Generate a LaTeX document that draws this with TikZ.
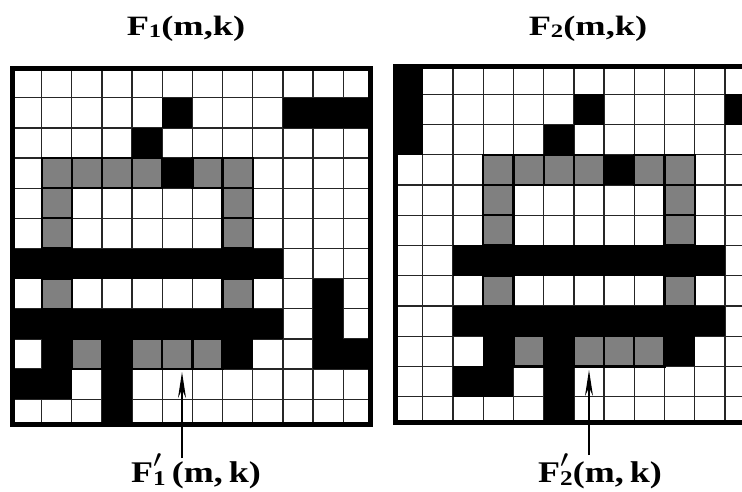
\documentclass[tikz,border=0pt]{standalone}
\usepackage{fontspec}
\setmainfont{Liberation Serif}
\usetikzlibrary{arrows.meta}
\begin{document}
\begin{tikzpicture}[x=1pt,y=-1pt,
  gridline/.style={line width=1.3pt, black!85},
  border/.style={line width=5pt, black},
  blk/.style={fill=black},
  gry/.style={fill=black!50, draw=black, line width=2.2pt},
  ttl/.style={font=\bfseries\fontsize{28}{32}\selectfont, inner sep=0pt, anchor=base},
  lab/.style={font=\bfseries\fontsize{30}{33}\selectfont, inner sep=0pt, anchor=base},
  arr/.style={line width=1.4pt, -{Stealth[length=26pt,width=8pt]}}]
\clip (0,0) rectangle (742,491);
\fill[white] (0,0) rectangle (742,491);
% ---------------- left grid ----------------
\begin{scope}[shift={(11.5,67.6)}]
  \def\s{30.15}
  \begin{scope}
    \clip (0.5,0.4) rectangle (359,356.9);
    \foreach \i in {1,...,11} {
      \draw[gridline] (\i*\s,0) -- (\i*\s,357);
      \draw[gridline] (0,\i*\s) -- (360,\i*\s);
    }
    \foreach \c/\r in {6/2,10/2,11/2,12/2, 5/3, 6/4,
      1/7,2/7,3/7,4/7,5/7,6/7,7/7,8/7,9/7, 11/8,
      1/9,2/9,3/9,4/9,5/9,6/9,7/9,8/9,9/9,11/9,
      2/10,4/10,8/10,11/10,12/10, 1/11,2/11,4/11, 4/12}
      \fill[blk] (\c*\s-\s,\r*\s-\s) rectangle +(\s,\s);
    \foreach \c/\r in {2/4,3/4,4/4,5/4,7/4,8/4, 2/5,8/5, 2/6,8/6, 2/8,8/8,
      3/10,5/10,6/10,7/10}
      \draw[gry] (\c*\s-\s,\r*\s-\s) rectangle +(\s,\s);
  \end{scope}
  \draw[border] (0.5,0.4) rectangle (359,356.9);
\end{scope}
% ---------------- right grid ----------------
\begin{scope}[shift={(392.5,64.1)}]
  \def\s{30.23}
  \begin{scope}
    \clip (2.5,2.4) rectangle (370,358.4);
    \foreach \i in {1,...,11} {
      \draw[gridline] (\i*\s,0) -- (\i*\s,360);
      \draw[gridline] (0,\i*\s) -- (370,\i*\s);
    }
    \foreach \c/\r in {1/1, 1/2,7/2,12/2, 1/3,6/3, 8/4,
      3/7,4/7,5/7,6/7,7/7,8/7,9/7,10/7,11/7,
      3/9,4/9,5/9,6/9,7/9,8/9,9/9,10/9,11/9,
      4/10,6/10,10/10, 3/11,4/11,6/11, 6/12}
      \fill[blk] (\c*\s-\s,\r*\s-\s) rectangle +(\s,\s);
    \foreach \c/\r in {4/4,5/4,6/4,7/4,9/4,10/4, 4/5,10/5, 4/6,10/6, 4/8,10/8,
      5/10,7/10,8/10,9/10}
      \draw[gry] (\c*\s-\s,\r*\s-\s) rectangle +(\s,\s);
  \end{scope}
  \draw[border] (2.5,2.4) rectangle (380,358.4);
\end{scope}
% ---------------- titles ----------------
\node[ttl] (t1) at (186,35) {\scalebox{1.3}[1]{F\raisebox{-0.1em}{\fontsize{19}{19}\selectfont 1}(m,k)}};
\node[ttl] (t2) at (588,35) {\scalebox{1.3}[1]{F\raisebox{-0.1em}{\fontsize{19}{19}\selectfont 2}(m,k)}};
% ---------------- bottom labels ----------------
\node[lab] (l1) at (196,482) {\scalebox{1.2}[1]{F\rlap{\raisebox{0.5em}{\fontsize{23}{23}\selectfont$\prime$}}\raisebox{-0.12em}{\fontsize{21}{21}\selectfont 1}\,(m,\,k)}};
\node[lab] (l2) at (600,482) {\scalebox{1.2}[1]{F\rlap{\raisebox{0.5em}{\fontsize{23}{23}\selectfont$\prime$}}\raisebox{-0.12em}{\fontsize{21}{21}\selectfont 2}(m,\,k)}};
\coordinate (a1) at (182,458);
\coordinate (p1) at (182,372);
\coordinate (a2) at (589,455);
\coordinate (p2) at (589,370);
\draw[arr] (a1) -- (p1);
\draw[arr] (a2) -- (p2);
\end{tikzpicture}
\end{document}
